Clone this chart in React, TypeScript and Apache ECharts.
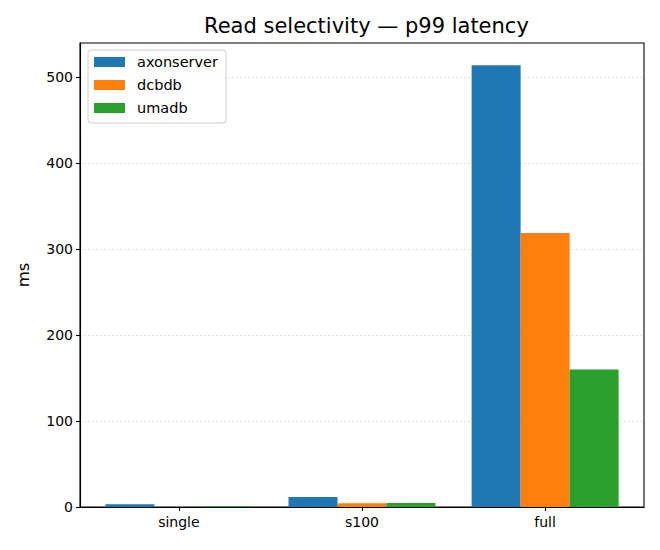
import React, { useEffect, useRef } from "react";
import * as echarts from "echarts";

const categories = ["single", "s100", "full"];
const seriesNames = ["axonserver", "dcbdb", "umadb"];
const axonserver = [3.2, 11.6, 514];
const dcbdb = [0.1, 4.3, 319];
const umadb = [1.0, 4.6, 160];
const colors = ["#1f77b4", "#ff7f0e", "#2ca02c"];
const yTicks = [0, 100, 200, 300, 400, 500];

const FONT = "DejaVu Sans";

export default function App() {
  const ref = useRef<HTMLDivElement>(null);
  useEffect(() => {
    if (!ref.current) return;
    const chart = echarts.init(ref.current, undefined, { renderer: "svg" });
    const values = [axonserver, dcbdb, umadb];
    const catIdx = categories.map((_, i) => i);
    chart.setOption({
      animation: false,
      backgroundColor: "#ffffff",
      title: {
        text: "Read selectivity — p99 latency",
        left: 199,
        top: 10,
        textStyle: { fontFamily: FONT, fontSize: 21, fontWeight: "normal", color: "#000" },
      },
      legend: {
        orient: "vertical",
        left: 88,
        top: 50,
        padding: [4, 8, 7, 6],
        itemWidth: 31,
        itemHeight: 10,
        itemGap: 7,
        icon: "rect",
        borderColor: "#cccccc",
        borderWidth: 1,
        borderRadius: 3,
        backgroundColor: "rgba(255,255,255,0.8)",
        textStyle: { fontFamily: FONT, fontSize: 14.5, color: "#000", lineHeight: 16, padding: [0, 0, 0, 7] },
        data: seriesNames,
      },
      grid: {
        left: 80,
        right: 16,
        top: 43,
        bottom: 43,
        show: true,
        borderColor: "#000",
        borderWidth: 1.1,
        containLabel: false,
      },
      xAxis: {
        type: "value",
        min: -0.54,
        max: 2.54,
        axisLine: { show: true, onZero: false, lineStyle: { color: "#000", width: 1.1 } },
        axisTick: { show: true, customValues: catIdx, length: 4, lineStyle: { color: "#000", width: 1.1 } },
        axisLabel: {
          customValues: catIdx,
          formatter: (v: number) => categories[Math.round(v)] ?? "",
          fontFamily: FONT,
          fontSize: 14,
          color: "#000",
          margin: 8,
        },
        splitLine: { show: false },
      },
      yAxis: {
        type: "value",
        min: 0,
        max: 540,
        name: "ms",
        nameLocation: "middle",
        nameGap: 48,
        nameRotate: 90,
        nameTextStyle: { fontFamily: FONT, fontSize: 16.5, color: "#000" },
        axisLine: { show: true, onZero: false, lineStyle: { color: "#000", width: 1.1 } },
        axisTick: { show: true, customValues: yTicks, length: 4, lineStyle: { color: "#000", width: 1.1 } },
        axisLabel: {
          customValues: yTicks,
          fontFamily: FONT,
          fontSize: 14,
          color: "#000",
          margin: 7,
        },
        splitLine: {
          show: true,
          lineStyle: { color: "#d9d9d9", type: [1.5, 2.5], width: 1 },
        },
      },
      series: seriesNames.map((name, s) => ({
        name,
        type: "bar",
        barWidth: 49,
        barGap: "0%",
        itemStyle: { color: colors[s], borderWidth: 0 },
        data: values[s].map((v, i) => [i, v]),
      })),
    });
    return () => chart.dispose();
  }, []);
  return (
    <div
      ref={ref}
      style={{ position: "fixed", left: 0, top: 0, width: 660, height: 550 }}
    />
  );
}
